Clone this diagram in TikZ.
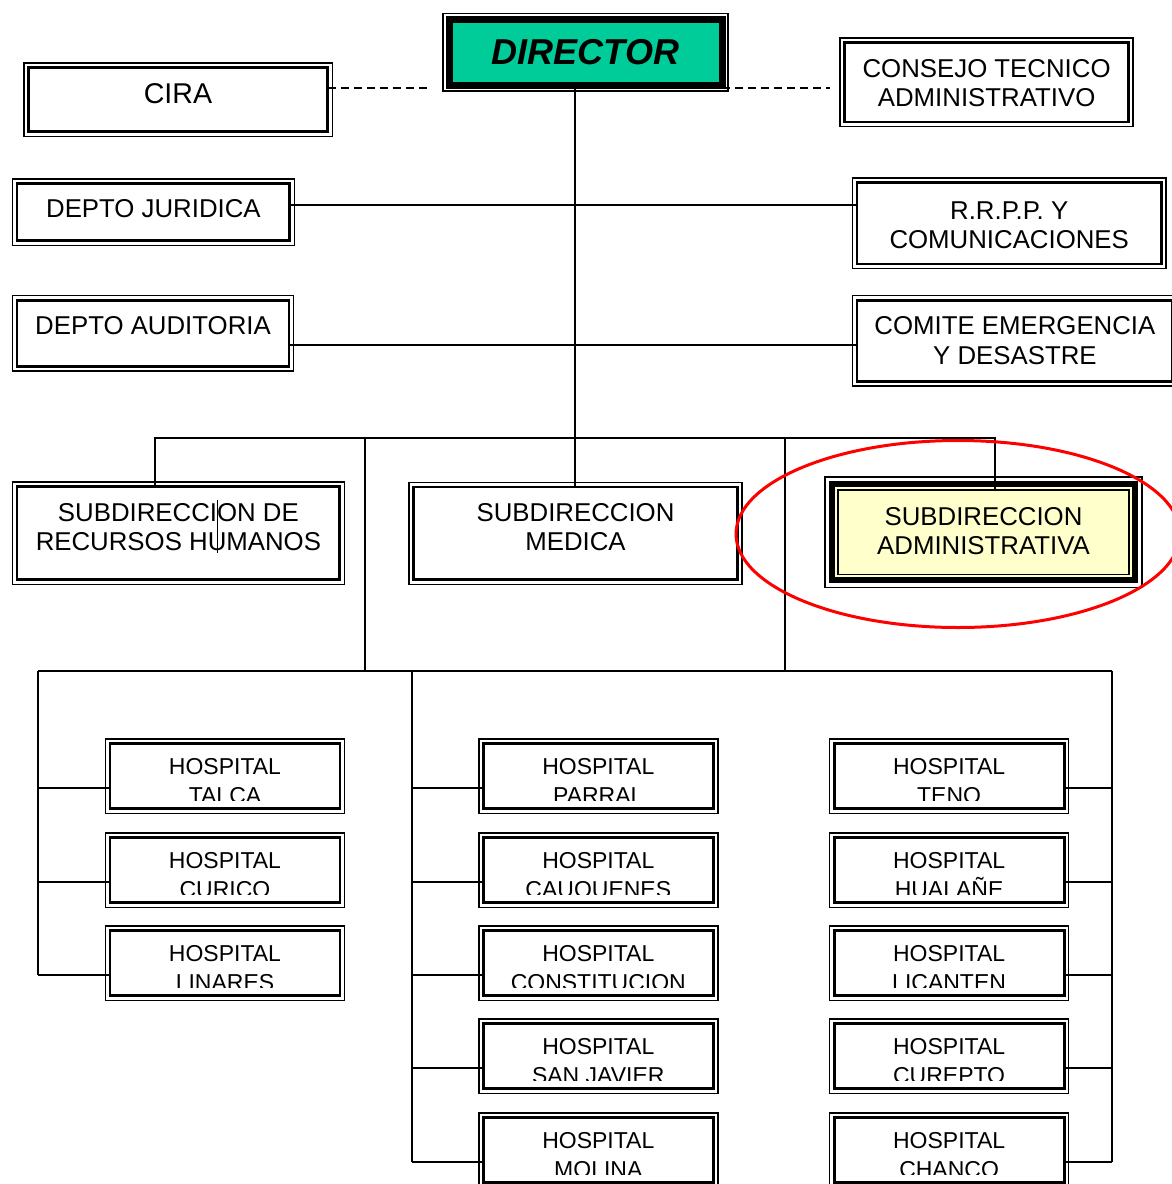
\documentclass[tikz,border=0pt]{standalone}
\usepackage{fontspec}
\setmainfont{Liberation Sans}
\definecolor{dirfill}{RGB}{0,204,153}
\definecolor{admfill}{RGB}{255,255,204}
\begin{document}
\begin{tikzpicture}[x=1pt,y=-1pt,
  frameout/.style={append after command={\pgfextra{\draw[line width=1.5pt]
     ([xshift=-#1,yshift=-#1]\tikzlastnode.south west) rectangle
     ([xshift=#1,yshift=#1]\tikzlastnode.north east);}}},
  dbl/.style={draw, line width=2.8pt, inner sep=0pt, outer sep=0pt, frameout=4.5pt},
  txt/.style={font=\fontsize{25.8}{29.4}\selectfont, align=center, inner sep=0pt, anchor=north,
     minimum width=0pt, minimum height=0pt, draw=none, fill=none},
  lab/.style n args={2}{path picture={\node[txt] at ([yshift=-#1]path picture bounding box.north) {#2};}},
  htxt/.style={font=\fontsize{23}{29.5}\selectfont, align=center, inner sep=0pt, anchor=north,
     minimum width=0pt, minimum height=0pt, draw=none, fill=none},
  hosp/.style={dbl, minimum width=230pt, minimum height=65.5pt, path picture={
     \clip (path picture bounding box.north west) rectangle ([yshift=8.5pt]path picture bounding box.south east);
     \node[htxt] at ([yshift=-15pt]path picture bounding box.north) {HOSPITAL\\#1};}},
  conn/.style={line width=1.4pt},
  dashline/.style={line width=1.4pt, dash pattern=on 8pt off 5pt}
]
\useasboundingbox (0,0) rectangle (1172,1184);
\clip (0,0) rectangle (1172,1184);

% top level
\node[draw, line width=7pt, fill=dirfill, inner sep=0pt, outer sep=0pt,
      minimum width=273pt, minimum height=65.5pt, frameout=6pt,
      font=\fontsize{36}{40}\selectfont\bfseries\itshape] (dir) at (585.5,52.25) {DIRECTOR};
\node[dbl, minimum width=299.5pt, minimum height=64.5pt,
      lab={16pt}{\fontsize{28.6}{32}\selectfont CIRA}] (cira) at (178,99.5) {};
\node[dbl, minimum width=284.2pt, minimum height=79.5pt,
      lab={16.8pt}{\fontsize{25.8}{27.5}\selectfont CONSEJO TECNICO\\ADMINISTRATIVO}] (cons) at (986.6,82.25) {};
\node[dbl, minimum width=272.75pt, minimum height=57.2pt,
      lab={15.7pt}{DEPTO JURIDICA}] (jur) at (153.4,212.2) {};
\node[dbl, minimum width=304.5pt, minimum height=81.5pt,
      lab={19.2pt}{R.R.P.P. Y\\COMUNICACIONES}] (rrpp) at (1009.2,223.3) {};
\node[dbl, minimum width=272pt, minimum height=66.2pt,
      lab={16.4pt}{DEPTO AUDITORIA}] (aud) at (153,333.3) {};
\node[dbl, minimum width=315.75pt, minimum height=81.2pt,
      lab={16.4pt}{COMITE EMERGENCIA\\Y DESASTRE}] (com) at (1014.9,340.8) {};

% subdirecciones
\node[dbl, minimum width=322.75pt, minimum height=93.5pt,
      lab={17pt}{SUBDIRECCION DE\\RECURSOS HUMANOS}] (rrhh) at (178.4,533) {};
\node[dbl, minimum width=323.9pt, minimum height=92.75pt,
      lab={16.3pt}{SUBDIRECCION\\MEDICA}] (med) at (575.5,533.4) {};
\node[draw, line width=6pt, fill=admfill, inner sep=0pt, outer sep=0pt,
      minimum width=303pt, minimum height=96.3pt, frameout=7pt,
      path picture={
        \draw[line width=1.5pt] ([shift={(6pt,6pt)}]path picture bounding box.south west)
           rectangle ([shift={(-6pt,-6pt)}]path picture bounding box.north east);
        \node[txt] at ([yshift=-23.3pt]path picture bounding box.north) {SUBDIRECCION\\ADMINISTRATIVA};}] (adm) at (983.5,532.15) {};

% hospitals
\node[hosp=TALCA] (h11) at (225,776) {};
\node[hosp=CURICO] (h12) at (225,870) {};
\node[hosp=LINARES] (h13) at (225,963) {};
\node[hosp=PARRAL] (h21) at (598.3,776) {};
\node[hosp=CAUQUENES] (h22) at (598.3,870) {};
\node[hosp=CONSTITUCION] (h23) at (598.3,963) {};
\node[hosp=SAN JAVIER] (h24) at (598.3,1056) {};
\node[hosp=MOLINA] (h25) at (598.3,1150) {};
\node[hosp=TENO] (h31) at (949.1,776) {};
\node[hosp=HUALAÑE] (h32) at (949.1,870) {};
\node[hosp=LICANTEN] (h33) at (949.1,963) {};
\node[hosp=CUREPTO] (h34) at (949.1,1056) {};
\node[hosp=CHANCO] (h35) at (949.1,1150) {};

% coordinates
\coordinate (dy) at (0,88);
\coordinate (dashL) at (428,88);
\coordinate (dashR) at (830,88);
\coordinate (jy) at (575,205);
\coordinate (ay) at (575,345);
\coordinate (b155) at (155,438);
\coordinate (b365) at (365,438);
\coordinate (b575) at (575,438);
\coordinate (b785) at (785,438);
\coordinate (b995) at (995,438);
\coordinate (l38) at (38,671);
\coordinate (l365) at (365,671);
\coordinate (l412) at (412,671);
\coordinate (l785) at (785,671);
\coordinate (l1112) at (1112,671);
\coordinate (admtop) at ([yshift=-6pt]adm.north);

% connectors
\draw[dashline] (cira.east |- dy) -- (dashL);
\draw[dashline] (dir.east |- dy) -- (dashR);
\draw[conn] (dir.south -| b575) -- (med.north -| b575);
\draw[conn] (jur.east |- jy) -- (rrpp.west |- jy);
\draw[conn] (aud.east |- ay) -- (com.west |- ay);
\draw[conn] (rrhh.north -| b155) -- (b155) -- (b995) -- (admtop -| b995);
\draw[conn] (b365) -- (l365);
\draw[conn] (b785) -- (l785);
\draw[conn] (l38) -- (l1112);
\draw[line width=1pt] (217,500) -- (217,553);

\foreach \n in {h11,h12,h13} {
  \coordinate (c\n) at ([yshift=-12pt]\n.west);
  \draw[conn] (c\n) -- (c\n -| l38);
}
\foreach \n in {h21,h22,h23,h24,h25} {
  \coordinate (c\n) at ([yshift=-12pt]\n.west);
  \draw[conn] (c\n) -- (c\n -| l412);
}
\foreach \n in {h31,h32,h33,h34,h35} {
  \coordinate (c\n) at ([yshift=-12pt]\n.east);
  \draw[conn] (c\n) -- (c\n -| l1112);
}
\draw[conn] (l38) -- (ch13 -| l38);
\draw[conn] (l412) -- (ch25 -| l412);
\draw[conn] (l1112) -- (ch35 -| l1112);

% highlight
\draw[red, line width=3pt] (958,534) ellipse [x radius=222, y radius=93.5];
\end{tikzpicture}
\end{document}
